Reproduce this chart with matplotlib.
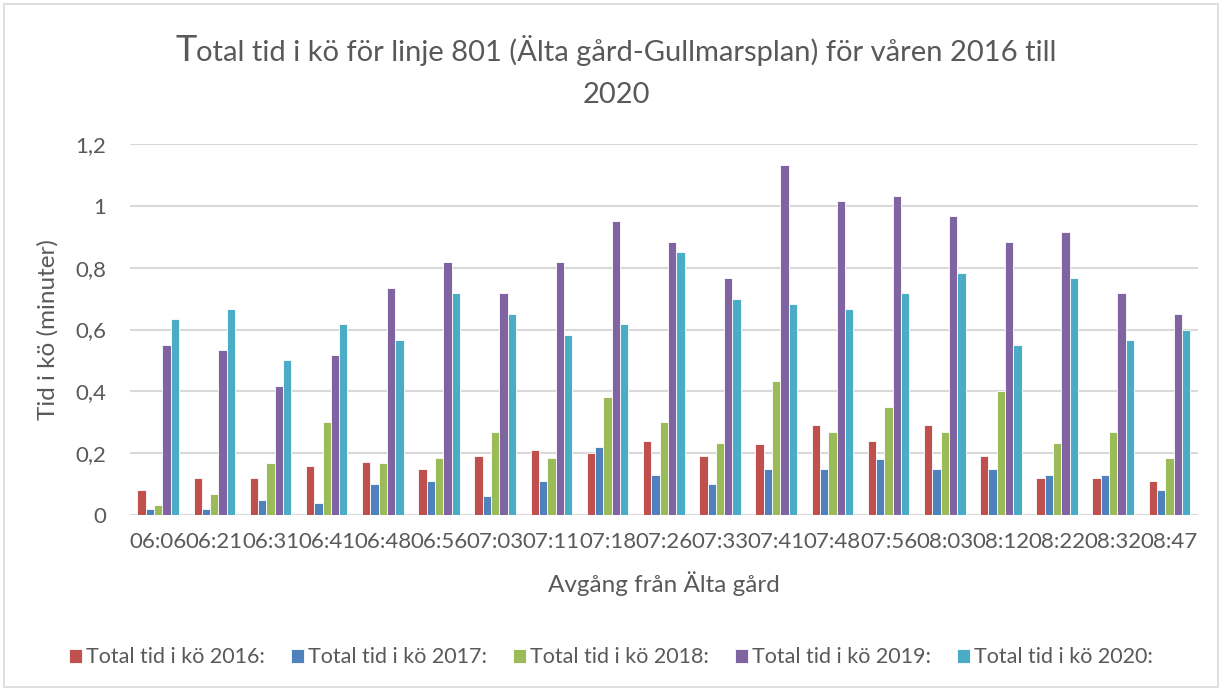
import numpy as np
import matplotlib.pyplot as plt
from matplotlib.patches import Rectangle
from matplotlib.ticker import FuncFormatter

plt.rcParams['font.family'] = ['Lato', 'DejaVu Sans']

times = ['06:06', '06:21', '06:31', '06:41', '06:48', '06:56', '07:03', '07:11', '07:18', '07:26',
         '07:33', '07:41', '07:48', '07:56', '08:03', '08:12', '08:22', '08:32', '08:47']

y2016 = [0.08, 0.12, 0.12, 0.16, 0.17, 0.15, 0.19, 0.21, 0.20, 0.24,
         0.19, 0.23, 0.29, 0.24, 0.29, 0.19, 0.12, 0.12, 0.11]
y2017 = [0.02, 0.02, 0.05, 0.04, 0.10, 0.11, 0.06, 0.11, 0.22, 0.13,
         0.10, 0.15, 0.15, 0.18, 0.15, 0.15, 0.13, 0.13, 0.08]
y2018 = [0.033, 0.067, 0.167, 0.30, 0.167, 0.183, 0.267, 0.183, 0.383, 0.30,
         0.233, 0.433, 0.267, 0.35, 0.267, 0.40, 0.233, 0.267, 0.183]
y2019 = [0.55, 0.533, 0.417, 0.517, 0.733, 0.817, 0.717, 0.817, 0.95, 0.883,
         0.767, 1.133, 1.017, 1.033, 0.967, 0.883, 0.917, 0.717, 0.65]
y2020 = [0.633, 0.667, 0.50, 0.617, 0.567, 0.717, 0.65, 0.583, 0.617, 0.85,
         0.70, 0.683, 0.667, 0.717, 0.783, 0.55, 0.767, 0.567, 0.60]

series = [y2016, y2017, y2018, y2019, y2020]
labels = ['Total tid i kö 2016:', 'Total tid i kö 2017:', 'Total tid i kö 2018:',
          'Total tid i kö 2019:', 'Total tid i kö 2020:']
colors = ['#C0504D', '#4F81BD', '#9BBB59', '#8064A2', '#4BACC6']

txt = '#595959'

fig = plt.figure(figsize=(12.22, 6.89), dpi=100)
fig.patches.append(Rectangle((0.003, 0.003), 0.994, 0.991, transform=fig.transFigure,
                             fill=False, edgecolor='#D9D9D9', linewidth=1.2))
ax = fig.add_axes([0.1064, 0.2525, 0.8736, 0.5385])

x = np.arange(len(times))
w = 0.148
for i, (vals, lab, c) in enumerate(zip(series, labels, colors)):
    ax.bar(x + (i - 2) * w, vals, width=w, color=c, edgecolor='white', linewidth=0.6, label=lab, zorder=3)

ax.set_xlim(-0.5, len(times) - 0.5)
ax.set_ylim(0, 1.2)
ax.set_yticks(np.arange(0, 1.21, 0.2))
ax.yaxis.set_major_formatter(FuncFormatter(lambda v, p: ('%g' % round(v, 1)).replace('.', ',')))
ax.set_xticks(x)
ax.set_xticklabels(times)
ax.grid(axis='y', color='#D9D9D9', linewidth=1.5, zorder=0)
for s in ax.spines.values():
    s.set_visible(False)
ax.tick_params(length=0, labelsize=16, colors=txt, pad=12)
ax.tick_params(axis='y', pad=17)

ax.set_xlabel('Avgång från Älta gård', fontsize=17.5, color=txt, labelpad=14)
ax.set_ylabel('Tid i kö (minuter)', fontsize=17.5, color=txt, labelpad=12)

# title with enlarged first letter
t1 = fig.text(0, 0.912, 'T', fontsize=26, color=txt, ha='left', va='baseline')
t2 = fig.text(0, 0.912, 'otal tid i kö för linje 801 (Älta gård-Gullmarsplan) för våren 2016 till',
              fontsize=21, color=txt, ha='left', va='baseline')
fig.text(0.504, 0.85, '2020', fontsize=21, color=txt, ha='center', va='baseline')
fig.canvas.draw()
r = fig.canvas.get_renderer()
wt1 = t1.get_window_extent(r).width
wt2 = t2.get_window_extent(r).width
left = 616 - (wt1 + wt2) / 2
t1.set_x(left / 1222)
t2.set_x((left + wt1) / 1222)

fig.legend(loc='center', bbox_to_anchor=(0.5, 0.046), ncol=5, frameon=False, fontsize=15.5,
           handlelength=0.6, handleheight=0.6, handletextpad=0.2, columnspacing=1.2,
           labelcolor=txt)

fig.savefig('out.png', dpi=100)
